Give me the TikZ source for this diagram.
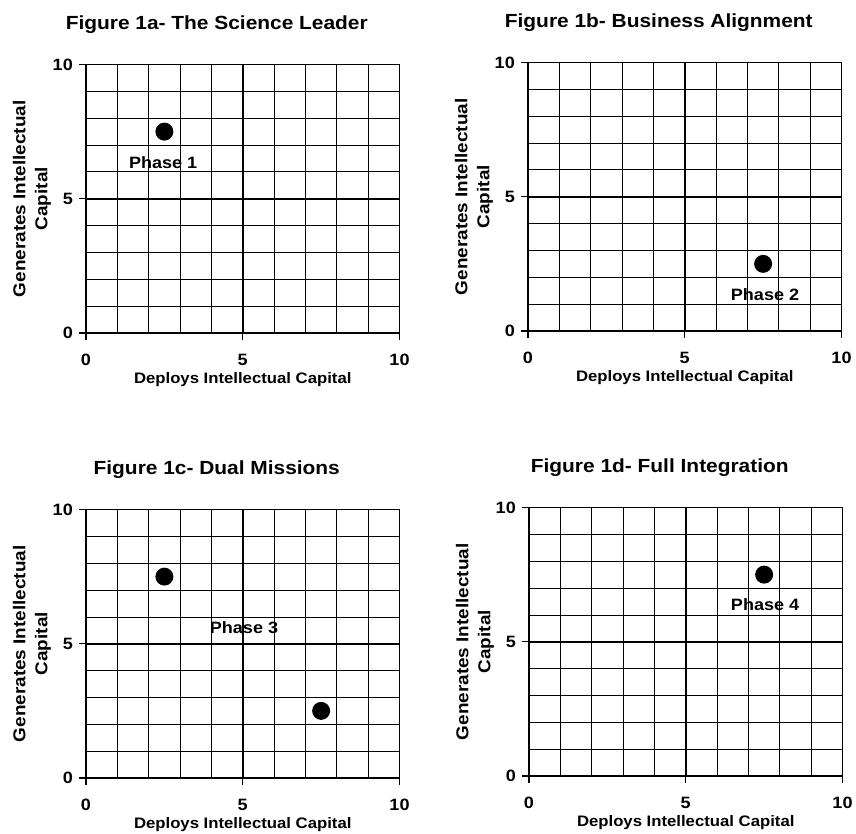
\documentclass[tikz,border=0pt]{standalone}
\usepackage{fontspec}
\setmainfont{Liberation Sans}[FakeStretch=1.1]
\usepackage{tikz}

% one quadrant chart: #1 = name prefix, #2 = title
\newcommand{\quadgrid}[2]{%
  \foreach \g in {1,...,9} {
    \draw[gridline] (\g,0) -- (\g,10);
    \draw[gridline] (0,\g) -- (10,\g);
  }
  \draw[heavyline] (0,0) rectangle (10,10);
  \draw[heavyline] (5,0) -- (5,10);
  \draw[heavyline] (0,5) -- (10,5);
  \foreach \v in {0,5,10} {
    \draw[tickline] (0,\v) -- ++(-7pt,0pt);
    \draw[tickline] (\v,0) -- ++(0pt,-7pt);
    \node[ticklabel, anchor=east] (#1-y\v) at ([xshift=-12pt]0,\v) {\v};
    \node[ticklabel] (#1-x\v) at ([yshift=-27pt]\v,0) {\v};
  }
  \node[axislabel] (#1-xlab) at ([yshift=-47pt]5,0) {Deploys Intellectual Capital};
  \node[ylabel, rotate=90] (#1-ylab) at ([xshift=-54pt]0,5) {Generates Intellectual\\Capital};
  \node[paneltitle] (#1-title) at ([xshift=-26pt,yshift=40pt]5,10) {#2};
}

\begin{document}
\begin{tikzpicture}[
    gridline/.style={line width=0.8pt},
    heavyline/.style={line width=1.8pt},
    tickline/.style={line width=1.4pt},
    ticklabel/.style={font=\fontsize{16.4}{19}\selectfont\bfseries, inner sep=1pt},
    axislabel/.style={font=\fontsize{15.2}{18}\selectfont\bfseries, inner sep=1pt},
    ylabel/.style={font=\fontsize{17.2}{22}\selectfont\bfseries, align=center, inner sep=1pt},
    paneltitle/.style={font=\fontsize{19}{23}\selectfont\bfseries, inner sep=1pt},
    phase/.style={font=\fontsize{16.4}{19}\selectfont\bfseries, inner sep=1pt},
    dot/.style={circle, fill=black, inner sep=0pt, minimum size=18pt},
    panel/.style={x=31.35pt, y=26.85pt}
]
\useasboundingbox (0,0) rectangle (856pt,833pt);

% Figure 1a
\begin{scope}[panel, shift={(86pt,500pt)}]
  \quadgrid{a}{Figure 1a- The Science Leader}
  \node[dot] (dotA) at (2.5,7.5) {};
  \node[phase] (phaseA) at (2.46,6.33) {Phase 1};
\end{scope}

% Figure 1b
\begin{scope}[panel, shift={(528pt,502pt)}]
  \quadgrid{b}{Figure 1b- Business Alignment}
  \node[dot] (dotB) at (7.5,2.5) {};
  \node[phase] (phaseB) at (7.56,1.34) {Phase 2};
\end{scope}

% Figure 1c
\begin{scope}[panel, shift={(86pt,55pt)}]
  \quadgrid{c}{Figure 1c- Dual Missions}
  \node[dot] (dotC1) at (2.5,7.5) {};
  \node[dot] (dotC2) at (7.5,2.5) {};
  \node[phase] (phaseC) at (5.04,5.59) {Phase 3};
\end{scope}

% Figure 1d
\begin{scope}[panel, shift={(529pt,57pt)}]
  \quadgrid{d}{Figure 1d- Full Integration}
  \node[dot] (dotD) at (7.5,7.5) {};
  \node[phase] (phaseD) at (7.53,6.37) {Phase 4};
\end{scope}
\end{tikzpicture}
\end{document}
